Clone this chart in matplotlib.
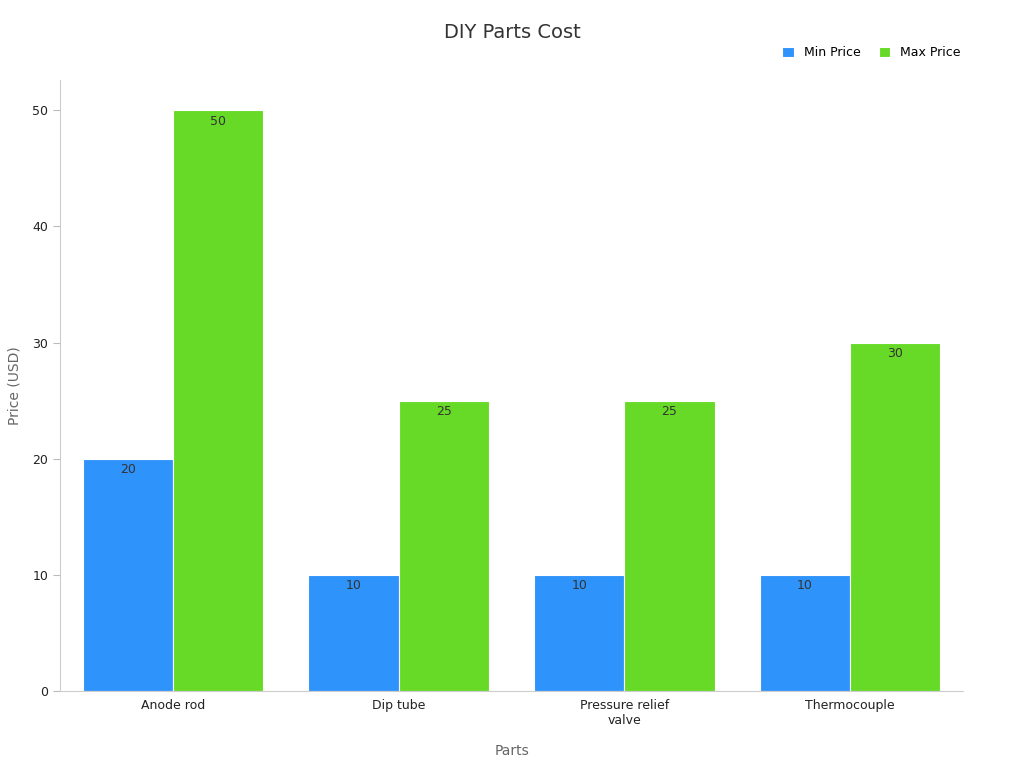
import matplotlib
matplotlib.use("Agg")
import matplotlib.pyplot as plt
import numpy as np

categories = ["Anode rod", "Dip tube", "Pressure relief\nvalve", "Thermocouple"]
min_price = [20, 10, 10, 10]
max_price = [50, 25, 25, 30]
series_names = ["Min Price", "Max Price"]
colors = ["#2E93FA", "#66DA26"]

fig = plt.figure(figsize=(10.24, 7.68), dpi=100)
ax = fig.add_axes([60/1024, 1-691/768, 903/1024, 611/768])
x = np.arange(len(categories))
w = 0.4
for off, vals, name, c in [(-w/2, min_price, series_names[0], colors[0]), (w/2, max_price, series_names[1], colors[1])]:
    bars = ax.bar(x + off, vals, w, color=c, edgecolor="white", linewidth=0.8, label=name)
    for b, v in zip(bars, vals):
        ax.text(b.get_x() + b.get_width()/2, v - 0.4, str(v), ha="center", va="top", fontsize=9, color="#333333")

ax.set_xlim(-0.5, 3.5)
ax.set_ylim(0, 52.6)
ax.set_xticks(x)
ax.set_xticklabels(categories, fontsize=9, color="#222222")
ax.set_yticks([0, 10, 20, 30, 40, 50])
ax.tick_params(axis="y", labelsize=9, colors="#222222", length=5, color="#bbbbbb")
ax.tick_params(axis="x", length=0, pad=6)
for s in ["top", "right"]:
    ax.spines[s].set_visible(False)
for s in ["left", "bottom"]:
    ax.spines[s].set_color("#cccccc")
ax.set_xlabel("Parts", fontsize=10, color="#666666", labelpad=12)
ax.set_ylabel("Price (USD)", fontsize=10, color="#666666", labelpad=8)
fig.text(512/1024, 1-33/768, "DIY Parts Cost", ha="center", va="center", fontsize=14, color="#333333")
fig.legend(loc="center right", bbox_to_anchor=(972/1024, 1-53/768), ncol=2, frameon=False,
           fontsize=9, handlelength=0.9, handleheight=0.9, columnspacing=1.5)
fig.savefig("out.png", dpi=100)
